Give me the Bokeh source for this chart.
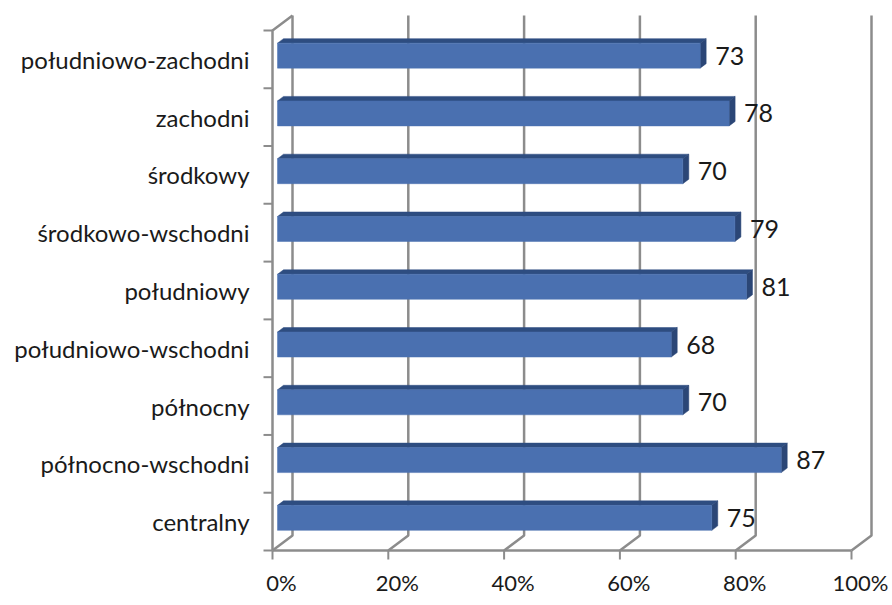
from bokeh.plotting import figure
from bokeh.models import ColumnDataSource
from bokeh.core.properties import value
from bokeh.embed import file_html
from bokeh.resources import INLINE

# ---- data ----
categories = ["centralny", "północno-wschodni", "północny", "południowo-wschodni",
              "południowy", "środkowo-wschodni", "środkowy", "zachodni", "południowo-zachodni"]
values = [75, 87, 70, 68, 81, 79, 70, 78, 73]
x_ticks = [0, 20, 40, 60, 80, 100]
x_tick_labels = ["0%", "20%", "40%", "60%", "80%", "100%"]

# ---- geometry (pixels -> data units) ----
W, H = 892, 605
X0_PX, X100_PX = 272, 851
SX = (X100_PX - X0_PX) / 100.0          # px per percent
Y0_PX, YTOP_PX = 550, 30
SY = (Y0_PX - YTOP_PX) / len(categories)  # px per category slot

x_start = -X0_PX / SX
x_end = (W - X0_PX) / SX
y_start = -(H - Y0_PX) / SY
y_end = len(categories) + YTOP_PX / SY

DX = 20 / SX      # depth vector of the 3D box
DY = 15 / SY

p = figure(width=W, height=H, x_range=(x_start, x_end), y_range=(y_start, y_end),
           x_axis_type=None, y_axis_type=None, toolbar_location=None,
           output_backend="svg", min_border=0, outline_line_color=None,
           background_fill_color="white", border_fill_color="white")
p.grid.visible = False

GRID = "#8c8c8c"
LW = 2.5
n = len(categories)

# back wall gridlines + floor slants
xs, ys = [], []
for t in x_ticks:
    xs.append([t, t + DX, t + DX])
    ys.append([0, DY, n + DY])
p.multi_line(xs, ys, line_color=GRID, line_width=LW)

# left wall front edge and top edge
p.line([0, 0, DX], [0, n, n + DY], line_color=GRID, line_width=LW)
# floor front edge
p.line([0, 100], [0, 0], line_color=GRID, line_width=LW)

# left ticks
tl = 9 / SX
p.segment(x0=[-tl] * (n + 1), y0=list(range(n + 1)), x1=[0] * (n + 1), y1=list(range(n + 1)),
          line_color=GRID, line_width=2)
# bottom ticks
tb = 9 / SY
p.segment(x0=x_ticks, y0=[0] * len(x_ticks), x1=x_ticks, y1=[-tb] * len(x_ticks),
          line_color=GRID, line_width=2)

# bars (3D)
f0 = 0.25     # front of bar within depth
fd = 0.30     # bar depth
hh = 25 / SY  # front face height
ox, oy = f0 * DX, f0 * DY
ddx, ddy = fd * DX, fd * DY

left, right, bottom, top = [], [], [], []
top_xs, top_ys, side_xs, side_ys = [], [], [], []
for i, v in enumerate(values):
    yc = i + 0.5
    L, R = ox, v + ox
    B, T = yc - hh / 2 + oy, yc + hh / 2 + oy
    left.append(L); right.append(R); bottom.append(B); top.append(T)
    top_xs.append([L, R, R + ddx, L + ddx])
    top_ys.append([T, T, T + ddy, T + ddy])
    side_xs.append([R, R, R + ddx, R + ddx])
    side_ys.append([B, T, T + ddy, B + ddy])

p.patches(top_xs, top_ys, fill_color="#2e4d80", line_color="#2e4d80", line_width=0.5)
p.patches(side_xs, side_ys, fill_color="#2b4676", line_color="#2b4676", line_width=0.5)
p.quad(left=left, right=right, bottom=bottom, top=top,
       fill_color="#4a70b0", line_color="#4a70b0", line_width=0.5)

FONT = value("Lato")
TXT = "#1a1a1a"

# value labels
vsrc = ColumnDataSource(dict(
    x=[v + ox + 15 / SX for v in values],
    y=[i + 0.5 + oy for i in range(n)],
    t=[str(v) for v in values]))
p.text(x="x", y="y", text="t", source=vsrc, text_font=FONT, text_font_size="25px",
       text_color=TXT, text_align="left", text_baseline="middle")

# category labels
csrc = ColumnDataSource(dict(
    x=[(249 - X0_PX) / SX] * n,
    y=[i + 0.5 for i in range(n)],
    t=categories))
p.text(x="x", y="y", text="t", source=csrc, text_font=FONT, text_font_size="24px",
       text_color=TXT, text_align="right", text_baseline="middle")

# x tick labels
xsrc = ColumnDataSource(dict(
    x=[t + 9 / SX for t in x_ticks],
    y=[(Y0_PX - 582) / SY] * len(x_ticks),
    t=x_tick_labels))
p.text(x="x", y="y", text="t", source=xsrc, text_font=FONT, text_font_size="22px",
       text_color=TXT, text_align="center", text_baseline="middle")

open("out.html", "w").write(file_html(p, INLINE))
